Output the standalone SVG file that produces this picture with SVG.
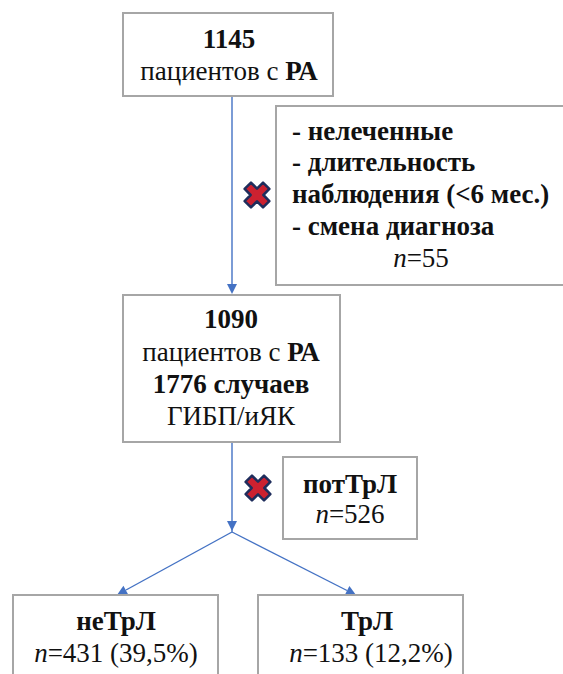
<svg xmlns="http://www.w3.org/2000/svg" width="563" height="674" viewBox="0 0 563 674">
<rect width="563" height="674" fill="#fff"/>
<g id="connectors">
<line x1="232" y1="96" x2="232" y2="285" stroke="#4472c4" stroke-width="1.4"/>
<polygon points="232,294 227,284 237,284" fill="#4472c4"/>
<line x1="232" y1="442" x2="232" y2="532" stroke="#4472c4" stroke-width="1.4"/>
<polygon points="232,531 227,521 237,521" fill="#4472c4"/>
<line x1="232" y1="532" x2="126" y2="590" stroke="#4472c4" stroke-width="1.4"/>
<polygon points="117,595 128.2,594.6 123.4,585.8" fill="#4472c4"/>
<line x1="232" y1="532" x2="347" y2="590.5" stroke="#4472c4" stroke-width="1.4"/>
<polygon points="356,595 344.8,595 349.4,586.1" fill="#4472c4"/>
</g>
<g id="n1">
<rect x="123" y="13" width="210" height="83" fill="#fff" stroke="#a6a6a6" stroke-width="2"/>
<text x="229" y="48" text-anchor="middle" font-family="serif" font-size="27" font-weight="bold" fill="#111">1145</text>
<text x="229" y="80" text-anchor="middle" font-family="serif" font-size="27" fill="#111">пациентов с <tspan font-weight="bold">РА</tspan></text>
</g>
<g id="excl1">
<rect x="276" y="106" width="292" height="179" fill="#fff" stroke="#a6a6a6" stroke-width="2"/>
<text x="292" y="140" font-family="serif" font-size="27" font-weight="bold" fill="#111">- нелеченные</text>
<text x="292" y="171" font-family="serif" font-size="27" font-weight="bold" fill="#111">- длительность</text>
<text x="292" y="203" font-family="serif" font-size="27" font-weight="bold" fill="#111">наблюдения (&lt;6 мес.)</text>
<text x="292" y="235" font-family="serif" font-size="27" font-weight="bold" fill="#111">- смена диагноза</text>
<text x="421" y="267" text-anchor="middle" font-family="serif" font-size="27" fill="#111"><tspan font-style="italic">n</tspan>=55</text>
</g>
<g id="x1">
<polygon points="257,176.6 263.4,183 263.4,183 263.4,183 257,189.4 250.6,183" fill="none" stroke="none"/>
<polygon points="-4.5,-13 4.5,-13 4.5,-4.5 13,-4.5 13,4.5 4.5,4.5 4.5,13 -4.5,13 -4.5,4.5 -13,4.5 -13,-4.5 -4.5,-4.5" transform="translate(257,195) rotate(45)" fill="#cc2130" stroke="#1f2d5c" stroke-width="2.5" stroke-linejoin="round"/>
</g>
<g id="n2">
<rect x="123" y="295" width="217" height="147" fill="#fff" stroke="#a6a6a6" stroke-width="2"/>
<text x="231" y="328" text-anchor="middle" font-family="serif" font-size="27" font-weight="bold" fill="#111">1090</text>
<text x="231" y="361" text-anchor="middle" font-family="serif" font-size="27" fill="#111">пациентов с <tspan font-weight="bold">РА</tspan></text>
<text x="231" y="393" text-anchor="middle" font-family="serif" font-size="27" font-weight="bold" fill="#111">1776 случаев</text>
<text x="231" y="425" text-anchor="middle" font-family="serif" font-size="27" fill="#111">ГИБП/иЯК</text>
</g>
<g id="excl2">
<rect x="283" y="457" width="134" height="82" fill="#fff" stroke="#a6a6a6" stroke-width="2"/>
<text x="350" y="493" text-anchor="middle" font-family="serif" font-size="27" font-weight="bold" fill="#111">потТрЛ</text>
<text x="350" y="523" text-anchor="middle" font-family="serif" font-size="27" fill="#111"><tspan font-style="italic">n</tspan>=526</text>
</g>
<g id="x2">
<polygon points="-4.5,-13 4.5,-13 4.5,-4.5 13,-4.5 13,4.5 4.5,4.5 4.5,13 -4.5,13 -4.5,4.5 -13,4.5 -13,-4.5 -4.5,-4.5" transform="translate(258,488) rotate(45)" fill="#cc2130" stroke="#1f2d5c" stroke-width="2.5" stroke-linejoin="round"/>
</g>
<g id="n3">
<rect x="13" y="595" width="205" height="90" fill="#fff" stroke="#a6a6a6" stroke-width="2"/>
<text x="116" y="630" text-anchor="middle" font-family="serif" font-size="27" font-weight="bold" fill="#111">неТрЛ</text>
<text x="116" y="662" text-anchor="middle" font-family="serif" font-size="27" fill="#111"><tspan font-style="italic">n</tspan>=431 (39,5%)</text>
</g>
<g id="n4">
<rect x="258" y="595" width="205" height="90" fill="#fff" stroke="#a6a6a6" stroke-width="2"/>
<text x="367" y="630" text-anchor="middle" font-family="serif" font-size="27" font-weight="bold" fill="#111">ТрЛ</text>
<text x="371" y="662" text-anchor="middle" font-family="serif" font-size="27" fill="#111"><tspan font-style="italic">n</tspan>=133 (12,2%)</text>
</g>
</svg>
